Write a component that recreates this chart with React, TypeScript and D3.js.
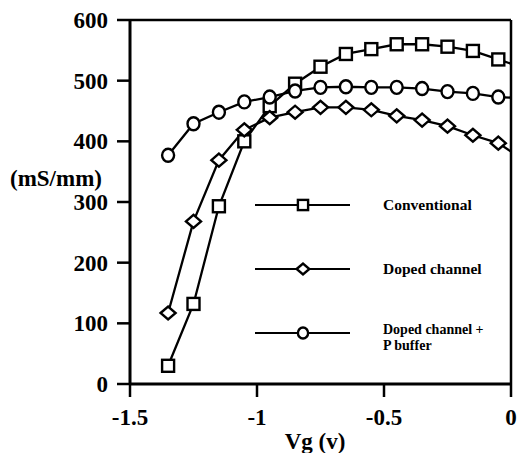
import React from "react";
import * as d3 from "d3";

const vg = [-1.35, -1.25, -1.15, -1.05, -0.95, -0.85, -0.75, -0.65, -0.55, -0.45, -0.35, -0.25, -0.15, -0.05, 0];
const conventional = [30, 132, 293, 400, 458, 495, 523, 544, 552, 560, 560, 556, 549, 535, 528];
const dopedChannel = [117, 268, 369, 419, 439, 448, 456, 456, 452, 442, 435, 425, 410, 397, 383];
const dopedPBuffer = [377, 429, 448, 465, 473, 483, 489, 490, 489, 489, 487, 482, 479, 473, 472];

const xTicks = [-1.5, -1, -0.5, 0];
const xTickLabels = ["-1.5", "-1", "-0.5", "0"];
const yTicks = [0, 100, 200, 300, 400, 500, 600];
const yTickLabels = ["0", "100", "200", "300", "400", "500", "600"];
const legendLabels = ["Conventional", "Doped channel", "Doped channel +|P buffer"];

const W = 518, H = 453;
const L = 130, R = 511, T = 20, B = 384;
const FONT = "'Liberation Serif', 'DejaVu Serif', 'Times New Roman', serif";
const txt = { fontFamily: FONT, fontWeight: 700 as const };

type Shape = "square" | "diamond" | "circle";

function Marker({ x, y, shape, s = 1 }: { x: number; y: number; shape: Shape; s?: number }) {
  const common = { fill: "#fff", stroke: "#000", strokeWidth: 2.4 };
  if (shape === "square") {
    const h = 6 * s;
    return <rect x={x - h} y={y - h} width={2 * h} height={2 * h} {...common} />;
  }
  if (shape === "diamond") {
    const w = 7.5 * s, hh = 6.5 * s;
    return <path d={`M${x - w},${y}L${x},${y - hh}L${x + w},${y}L${x},${y + hh}Z`} {...common} />;
  }
  return <ellipse cx={x} cy={y} rx={6 * s} ry={6.5 * s} {...common} />;
}

export default function App() {
  const x = d3.scaleLinear().domain([-1.5, 0]).range([L, R]);
  const y = d3.scaleLinear().domain([0, 600]).range([B, T]);
  const line = d3.line<number>().x((_, i) => x(vg[i])).y((d) => y(d));
  const series: { data: number[]; shape: Shape }[] = [
    { data: conventional, shape: "square" },
    { data: dopedChannel, shape: "diamond" },
    { data: dopedPBuffer, shape: "circle" },
  ];
  const legendY = [205, 269, 333];

  return (
    <svg width={W} height={H} style={{ position: "absolute", left: 0, top: 0, background: "#fff" }}>
      {/* frame */}
      <line x1={L} x2={R} y1={T} y2={T} stroke="#000" strokeWidth={2.5} />
      <line x1={R} x2={R} y1={T} y2={B} stroke="#000" strokeWidth={2.5} />
      <line x1={L} x2={L} y1={T - 1} y2={B + 1} stroke="#000" strokeWidth={3} />
      <line x1={L - 1} x2={R + 1} y1={B} y2={B} stroke="#000" strokeWidth={3} />

      {/* y ticks */}
      {yTicks.map((t, i) => (
        <g key={"y" + t}>
          <line x1={L - 13} x2={L} y1={y(t)} y2={y(t)} stroke="#000" strokeWidth={2.5} />
          <text x={108} y={y(t) + 8} textAnchor="end" fontSize={23} style={txt}>
            {yTickLabels[i]}
          </text>
        </g>
      ))}
      {/* x ticks */}
      {xTicks.map((t, i) => (
        <g key={"x" + t}>
          <line x1={x(t)} x2={x(t)} y1={B} y2={B + 13} stroke="#000" strokeWidth={2.5} />
          <text x={x(t)} y={425} textAnchor="middle" fontSize={23} style={txt}>
            {xTickLabels[i]}
          </text>
        </g>
      ))}
      <text x={10} y={186} fontSize={23} style={txt}>(mS/mm)</text>
      <text x={315} y={449} textAnchor="middle" fontSize={23} style={txt}>Vg (v)</text>

      {/* series */}
      {series.map((s, k) => (
        <path key={"l" + k} d={line(s.data) || ""} fill="none" stroke="#000" strokeWidth={2.3} />
      ))}
      {series.map((s, k) =>
        s.data.map((v, i) =>
          vg[i] < 0 ? <Marker key={`m${k}-${i}`} x={x(vg[i])} y={y(v)} shape={s.shape} /> : null
        )
      )}

      {/* legend */}
      {series.map((s, k) => {
        const ly = legendY[k];
        const parts = legendLabels[k].split("|");
        return (
          <g key={"lg" + k}>
            <line x1={255} x2={350} y1={ly} y2={ly} stroke="#000" strokeWidth={2.2} />
            <Marker x={303} y={ly} shape={s.shape} s={0.85} />
            {parts.length === 1 ? (
              <text x={383} y={ly + 5} fontSize={15.5} style={txt}>{parts[0]}</text>
            ) : (
              <>
                <text x={383} y={ly + 1} fontSize={14} style={txt}>{parts[0]}</text>
                <text x={383} y={ly + 17} fontSize={14} style={txt}>{parts[1]}</text>
              </>
            )}
          </g>
        );
      })}
    </svg>
  );
}
